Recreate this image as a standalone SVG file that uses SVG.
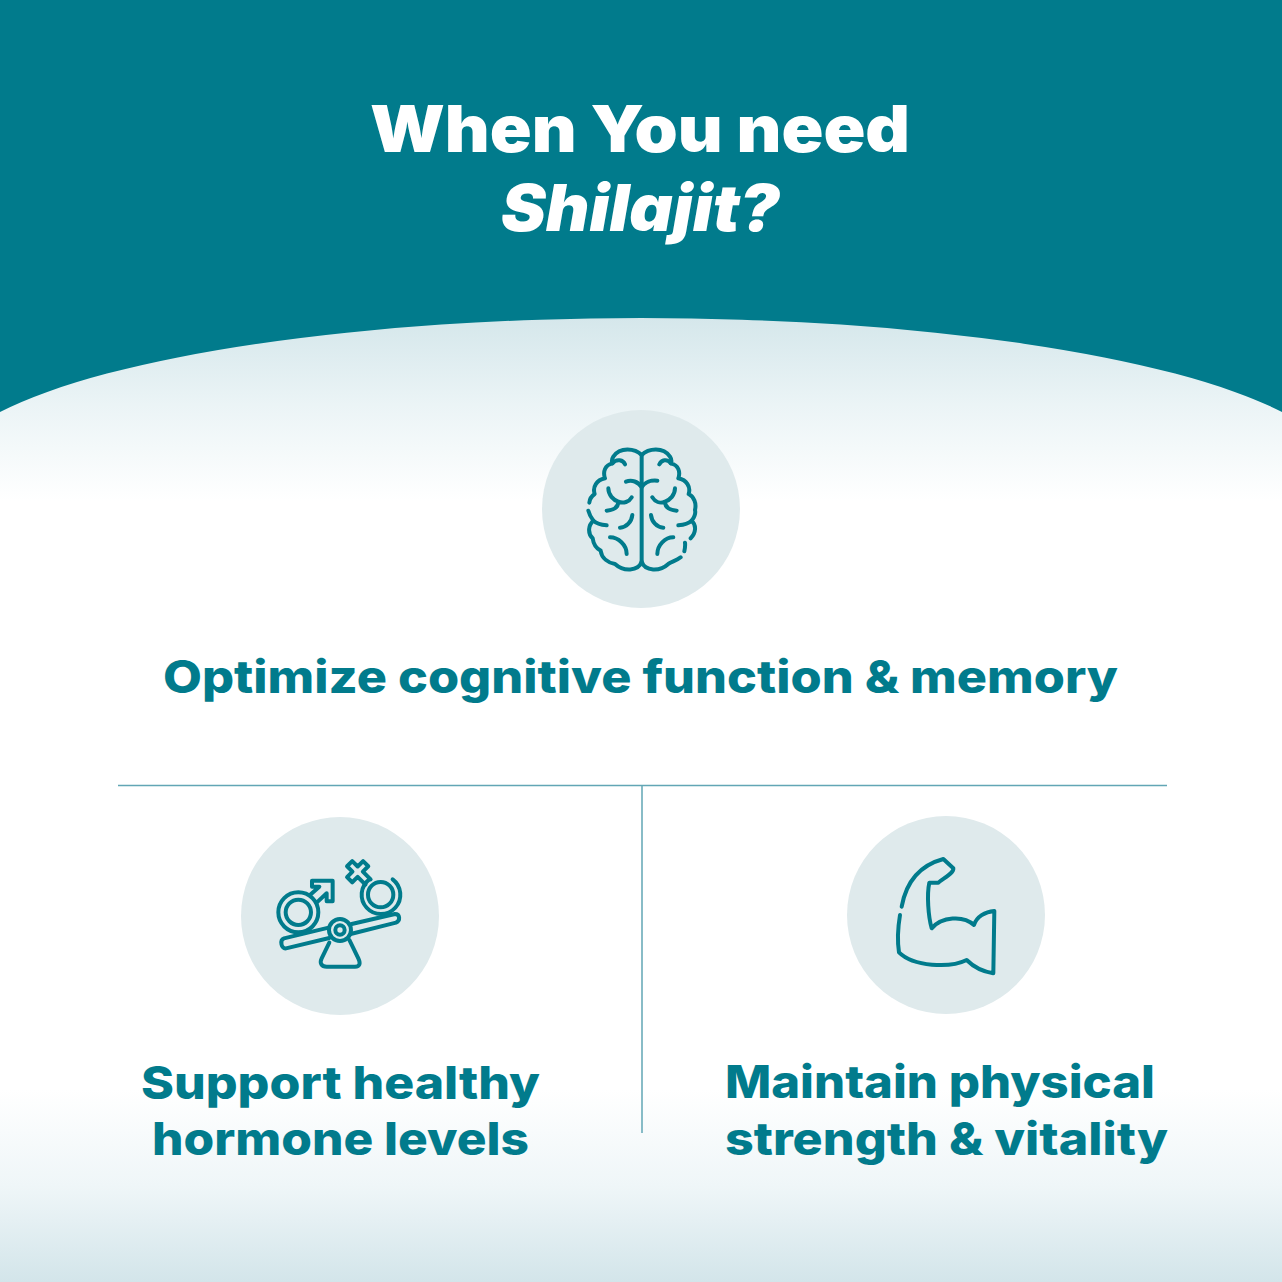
<svg xmlns="http://www.w3.org/2000/svg" width="1282" height="1282" viewBox="0 0 1282 1282">
<style>
.t{font-family:"Inter","Liberation Sans",sans-serif;font-weight:800;fill:#017b8c;font-size:45px}
.h{font-family:"Inter","Liberation Sans",sans-serif;font-weight:900;fill:#fff;font-size:65px}
.d{fill:#dfeaec}
.i{fill:none;stroke:#017b8c;stroke-width:12;stroke-linecap:round;stroke-linejoin:round}
.l{stroke:#62a6b5;stroke-width:1.5;fill:none}
</style>
<defs>
<linearGradient id="bg" gradientUnits="userSpaceOnUse" x1="0" y1="318" x2="0" y2="1282">
<stop offset="0" stop-color="#d5e7eb"/>
<stop offset="0.09" stop-color="#ebf4f6"/>
<stop offset="0.19" stop-color="#fff"/>
<stop offset="0.8" stop-color="#fff"/>
<stop offset="0.9" stop-color="#eff6f8"/>
<stop offset="1" stop-color="#d3e5ea"/>
</linearGradient>
</defs>
<rect id="background" width="1282" height="1282" fill="url(#bg)"/>
<path id="header" d="M0 0H1282V412A700 157 0 0 0 0 412Z" fill="#017b8c"/>
<g id="title">
<text class="h" x="370" y="152" textLength="540" lengthAdjust="spacingAndGlyphs">When You need</text>
<text class="h" x="501" y="231" textLength="279" lengthAdjust="spacingAndGlyphs" font-style="italic">Shilajit?</text>
</g>
<g id="connectors">
<path class="l" d="M118 785.500H1167M642 785.500V1133"/>
</g>
<g id="node-brain">
<circle class="d" cx="641" cy="509" r="99"/>
<g class="i" transform="translate(560 430) scale(.3333)">
<path d="M245 75C225 55 180 50 160 80C155 88 155 95 157 100C135 105 128 125 135 145C110 150 97 170 104 192C95 198 89 208 88 218M85 242C88 255 95 265 100 272C85 285 82 310 98 325C100 340 108 355 122 362C125 385 145 398 165 402C190 425 235 425 245 395V75"/>
<path d="M157 100C170 85 190 90 195 103M198 155C215 148 235 155 245 172C255 155 275 150 292 152M145 175C145 195 160 210 175 215C190 222 208 215 215 202M175 215C175 232 160 240 140 242M100 272C110 282 125 285 140 286M217 255C215 275 200 292 180 293M150 322C175 322 200 345 200 372"/>
<path d="M245 75C265 55 310 50 330 80C335 88 335 95 333 100C355 105 362 125 355 145C380 150 393 170 386 192C402 200 410 220 405 240C408 250 402 265 395 272C410 285 408 310 392 325M375 338C376 345 375 355 373 364M362 382C350 392 335 395 325 402C300 425 255 425 245 395"/>
<path d="M333 100C320 85 305 90 298 103M345 175C345 195 330 210 315 215C300 222 285 215 277 202M315 215C315 232 330 240 350 242M395 272C385 282 370 285 355 286M273 255C275 275 290 292 310 293M340 322C315 322 292 345 292 372"/>
</g>
<text class="t" x="163" y="693" textLength="955" lengthAdjust="spacingAndGlyphs">Optimize cognitive function &amp; memory</text>
</g>
<g id="node-hormone">
<circle class="d" cx="340" cy="916" r="99"/>
<g class="i" transform="translate(260 850) scale(.3333)">
<circle cx="115" cy="187" r="60"/>
<circle cx="115" cy="187" r="38"/>
<path d="M150 135L178 110H156V92H218V154H200V130L170 158"/>
<circle cx="362" cy="134" r="38"/>
<path d="M398 88A58 58 0 1 1 328 88"/>
<path transform="rotate(45 293 65)" d="M337 54H304V31H282V54H259V76H282V99H304V76H337"/>
<path d="M206 233L72 265C58 270 64 298 78 295L208 264M275 222L405 192C420 192 422 212 408 218L272 252"/>
<circle cx="240" cy="240" r="33"/>
<circle cx="240" cy="240" r="14"/>
<path d="M208 278L185 325C178 340 185 350 200 350H285C300 350 302 340 295 325L268 270"/>
</g>
<text class="t" x="141" y="1099" textLength="399" lengthAdjust="spacingAndGlyphs">Support healthy</text>
<text class="t" x="152" y="1155" textLength="377" lengthAdjust="spacingAndGlyphs">hormone levels</text>
</g>
<g id="node-strength">
<circle class="d" cx="946" cy="915" r="99"/>
<g class="i" transform="translate(880 845) scale(.3333)">
<path d="M65 185C75 130 105 65 190 42L220 70C222 85 190 100 175 113L148 113C140 150 145 215 155 250C185 215 250 210 282 240C290 215 315 200 343 198L340 385C310 380 280 365 260 345C210 370 100 365 57 322C52 290 55 240 60 210"/>
</g>
<text class="t" x="725" y="1098" textLength="430" lengthAdjust="spacingAndGlyphs">Maintain physical</text>
<text class="t" x="725" y="1155" textLength="443" lengthAdjust="spacingAndGlyphs">strength &amp; vitality</text>
</g>
</svg>
